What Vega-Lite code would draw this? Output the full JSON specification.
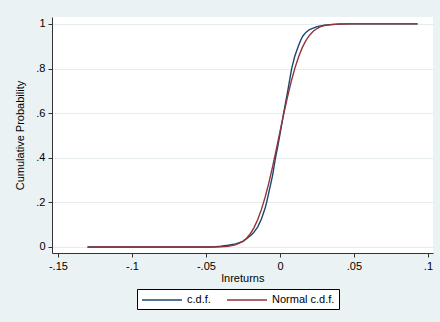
{
  "$schema": "https://vega.github.io/schema/vega-lite/v6.json",
  "width": 381,
  "height": 236,
  "autosize": {"type": "none"},
  "padding": {"left": 52, "top": 17, "right": 7, "bottom": 69},
  "background": "#eaf2f3",
  "config": {
    "view": {"fill": "white", "stroke": null},
    "font": "Liberation Sans",
    "axis": {
      "labelFont": "Liberation Sans",
      "titleFont": "Liberation Sans",
      "labelFontSize": 11,
      "titleFontSize": 11,
      "titleFontWeight": "normal",
      "labelColor": "#000",
      "titleColor": "#000",
      "domainColor": "#333",
      "tickColor": "#333",
      "tickSize": 4,
      "labelPadding": 3
    },
    "legend": {
      "labelFont": "Liberation Sans",
      "labelFontSize": 11,
      "labelColor": "#000"
    }
  },
  "data": {
    "values": [
      {"x": -0.13, "p": 0, "s": "c.d.f."},
      {"x": -0.045, "p": 0.0, "s": "c.d.f."},
      {"x": -0.04, "p": 0.003, "s": "c.d.f."},
      {"x": -0.035, "p": 0.008, "s": "c.d.f."},
      {"x": -0.03, "p": 0.014, "s": "c.d.f."},
      {"x": -0.025, "p": 0.025, "s": "c.d.f."},
      {"x": -0.021, "p": 0.045, "s": "c.d.f."},
      {"x": -0.018, "p": 0.062, "s": "c.d.f."},
      {"x": -0.015, "p": 0.09, "s": "c.d.f."},
      {"x": -0.0125, "p": 0.125, "s": "c.d.f."},
      {"x": -0.01, "p": 0.175, "s": "c.d.f."},
      {"x": -0.009, "p": 0.2, "s": "c.d.f."},
      {"x": -0.0075, "p": 0.245, "s": "c.d.f."},
      {"x": -0.005, "p": 0.32, "s": "c.d.f."},
      {"x": -0.003, "p": 0.4, "s": "c.d.f."},
      {"x": -0.0015, "p": 0.45, "s": "c.d.f."},
      {"x": 0, "p": 0.505, "s": "c.d.f."},
      {"x": 0.0025, "p": 0.6, "s": "c.d.f."},
      {"x": 0.005, "p": 0.69, "s": "c.d.f."},
      {"x": 0.0079, "p": 0.8, "s": "c.d.f."},
      {"x": 0.01, "p": 0.855, "s": "c.d.f."},
      {"x": 0.0124, "p": 0.9, "s": "c.d.f."},
      {"x": 0.014, "p": 0.927, "s": "c.d.f."},
      {"x": 0.0155, "p": 0.946, "s": "c.d.f."},
      {"x": 0.0175, "p": 0.962, "s": "c.d.f."},
      {"x": 0.02, "p": 0.975, "s": "c.d.f."},
      {"x": 0.025, "p": 0.988, "s": "c.d.f."},
      {"x": 0.03, "p": 0.994, "s": "c.d.f."},
      {"x": 0.035, "p": 0.997, "s": "c.d.f."},
      {"x": 0.04, "p": 0.999, "s": "c.d.f."},
      {"x": 0.047, "p": 1, "s": "c.d.f."},
      {"x": 0.093, "p": 1, "s": "c.d.f."},
      {"x": -0.13, "p": 0, "s": "Normal c.d.f."},
      {"x": -0.05, "p": 0.00004, "s": "Normal c.d.f."},
      {"x": -0.04, "p": 0.0008, "s": "Normal c.d.f."},
      {"x": -0.035, "p": 0.0029, "s": "Normal c.d.f."},
      {"x": -0.03, "p": 0.0091, "s": "Normal c.d.f."},
      {"x": -0.025, "p": 0.025, "s": "Normal c.d.f."},
      {"x": -0.0225, "p": 0.0392, "s": "Normal c.d.f."},
      {"x": -0.02, "p": 0.0594, "s": "Normal c.d.f."},
      {"x": -0.0175, "p": 0.0869, "s": "Normal c.d.f."},
      {"x": -0.015, "p": 0.123, "s": "Normal c.d.f."},
      {"x": -0.0125, "p": 0.1685, "s": "Normal c.d.f."},
      {"x": -0.01, "p": 0.2236, "s": "Normal c.d.f."},
      {"x": -0.0075, "p": 0.2877, "s": "Normal c.d.f."},
      {"x": -0.005, "p": 0.3594, "s": "Normal c.d.f."},
      {"x": -0.0025, "p": 0.4364, "s": "Normal c.d.f."},
      {"x": 0, "p": 0.516, "s": "Normal c.d.f."},
      {"x": 0.0025, "p": 0.5948, "s": "Normal c.d.f."},
      {"x": 0.005, "p": 0.67, "s": "Normal c.d.f."},
      {"x": 0.0075, "p": 0.7389, "s": "Normal c.d.f."},
      {"x": 0.01, "p": 0.7995, "s": "Normal c.d.f."},
      {"x": 0.0125, "p": 0.8508, "s": "Normal c.d.f."},
      {"x": 0.015, "p": 0.8925, "s": "Normal c.d.f."},
      {"x": 0.0175, "p": 0.9251, "s": "Normal c.d.f."},
      {"x": 0.02, "p": 0.9495, "s": "Normal c.d.f."},
      {"x": 0.0225, "p": 0.9671, "s": "Normal c.d.f."},
      {"x": 0.025, "p": 0.9793, "s": "Normal c.d.f."},
      {"x": 0.0275, "p": 0.9875, "s": "Normal c.d.f."},
      {"x": 0.03, "p": 0.9927, "s": "Normal c.d.f."},
      {"x": 0.035, "p": 0.9977, "s": "Normal c.d.f."},
      {"x": 0.04, "p": 0.9994, "s": "Normal c.d.f."},
      {"x": 0.05, "p": 0.99997, "s": "Normal c.d.f."},
      {"x": 0.093, "p": 1, "s": "Normal c.d.f."}
    ]
  },
  "mark": {"type": "line", "strokeWidth": 1.4, "clip": true},
  "encoding": {
    "x": {
      "field": "x",
      "type": "quantitative",
      "title": "lnreturns",
      "scale": {"domain": [-0.154, 0.1034], "nice": false, "zero": false},
      "axis": {
        "values": [-0.15, -0.1, -0.05, 0, 0.05, 0.1],
        "grid": false,
        "titlePadding": 1,
        "labelExpr": "datum.value < -0.12 ? '-.15' : datum.value < -0.07 ? '-.1' : datum.value < -0.02 ? '-.05' : datum.value < 0.02 ? '0' : datum.value < 0.07 ? '.05' : '.1'"
      }
    },
    "y": {
      "field": "p",
      "type": "quantitative",
      "title": "Cumulative Probability",
      "scale": {"domain": [-0.027, 1.031], "nice": false, "zero": false},
      "axis": {
        "values": [0, 0.2, 0.4, 0.6, 0.8, 1],
        "grid": true,
        "gridColor": "#e4eced",
        "gridWidth": 1,
        "titlePadding": 10,
        "labelExpr": "datum.value == 0 ? '0' : datum.value == 1 ? '1' : replace(format(datum.value, '.1f'), '0.', '.')"
      }
    },
    "color": {
      "field": "s",
      "type": "nominal",
      "scale": {"domain": ["c.d.f.", "Normal c.d.f."], "range": ["#1a476f", "#90353b"]},
      "legend": {
        "title": null,
        "orient": "none",
        "legendX": 85,
        "legendY": 272,
        "direction": "horizontal",
        "symbolType": "M-3.33,0H3.33",
        "symbolSize": 144,
        "symbolStrokeWidth": 1.4,
        "symbolFillColor": "transparent",
        "symbolOffset": 14,
        "labelOffset": 18,
        "columnPadding": 13,
        "padding": 4,
        "strokeColor": "#000",
        "fillColor": "white",
        "cornerRadius": 0
      }
    }
  }
}
